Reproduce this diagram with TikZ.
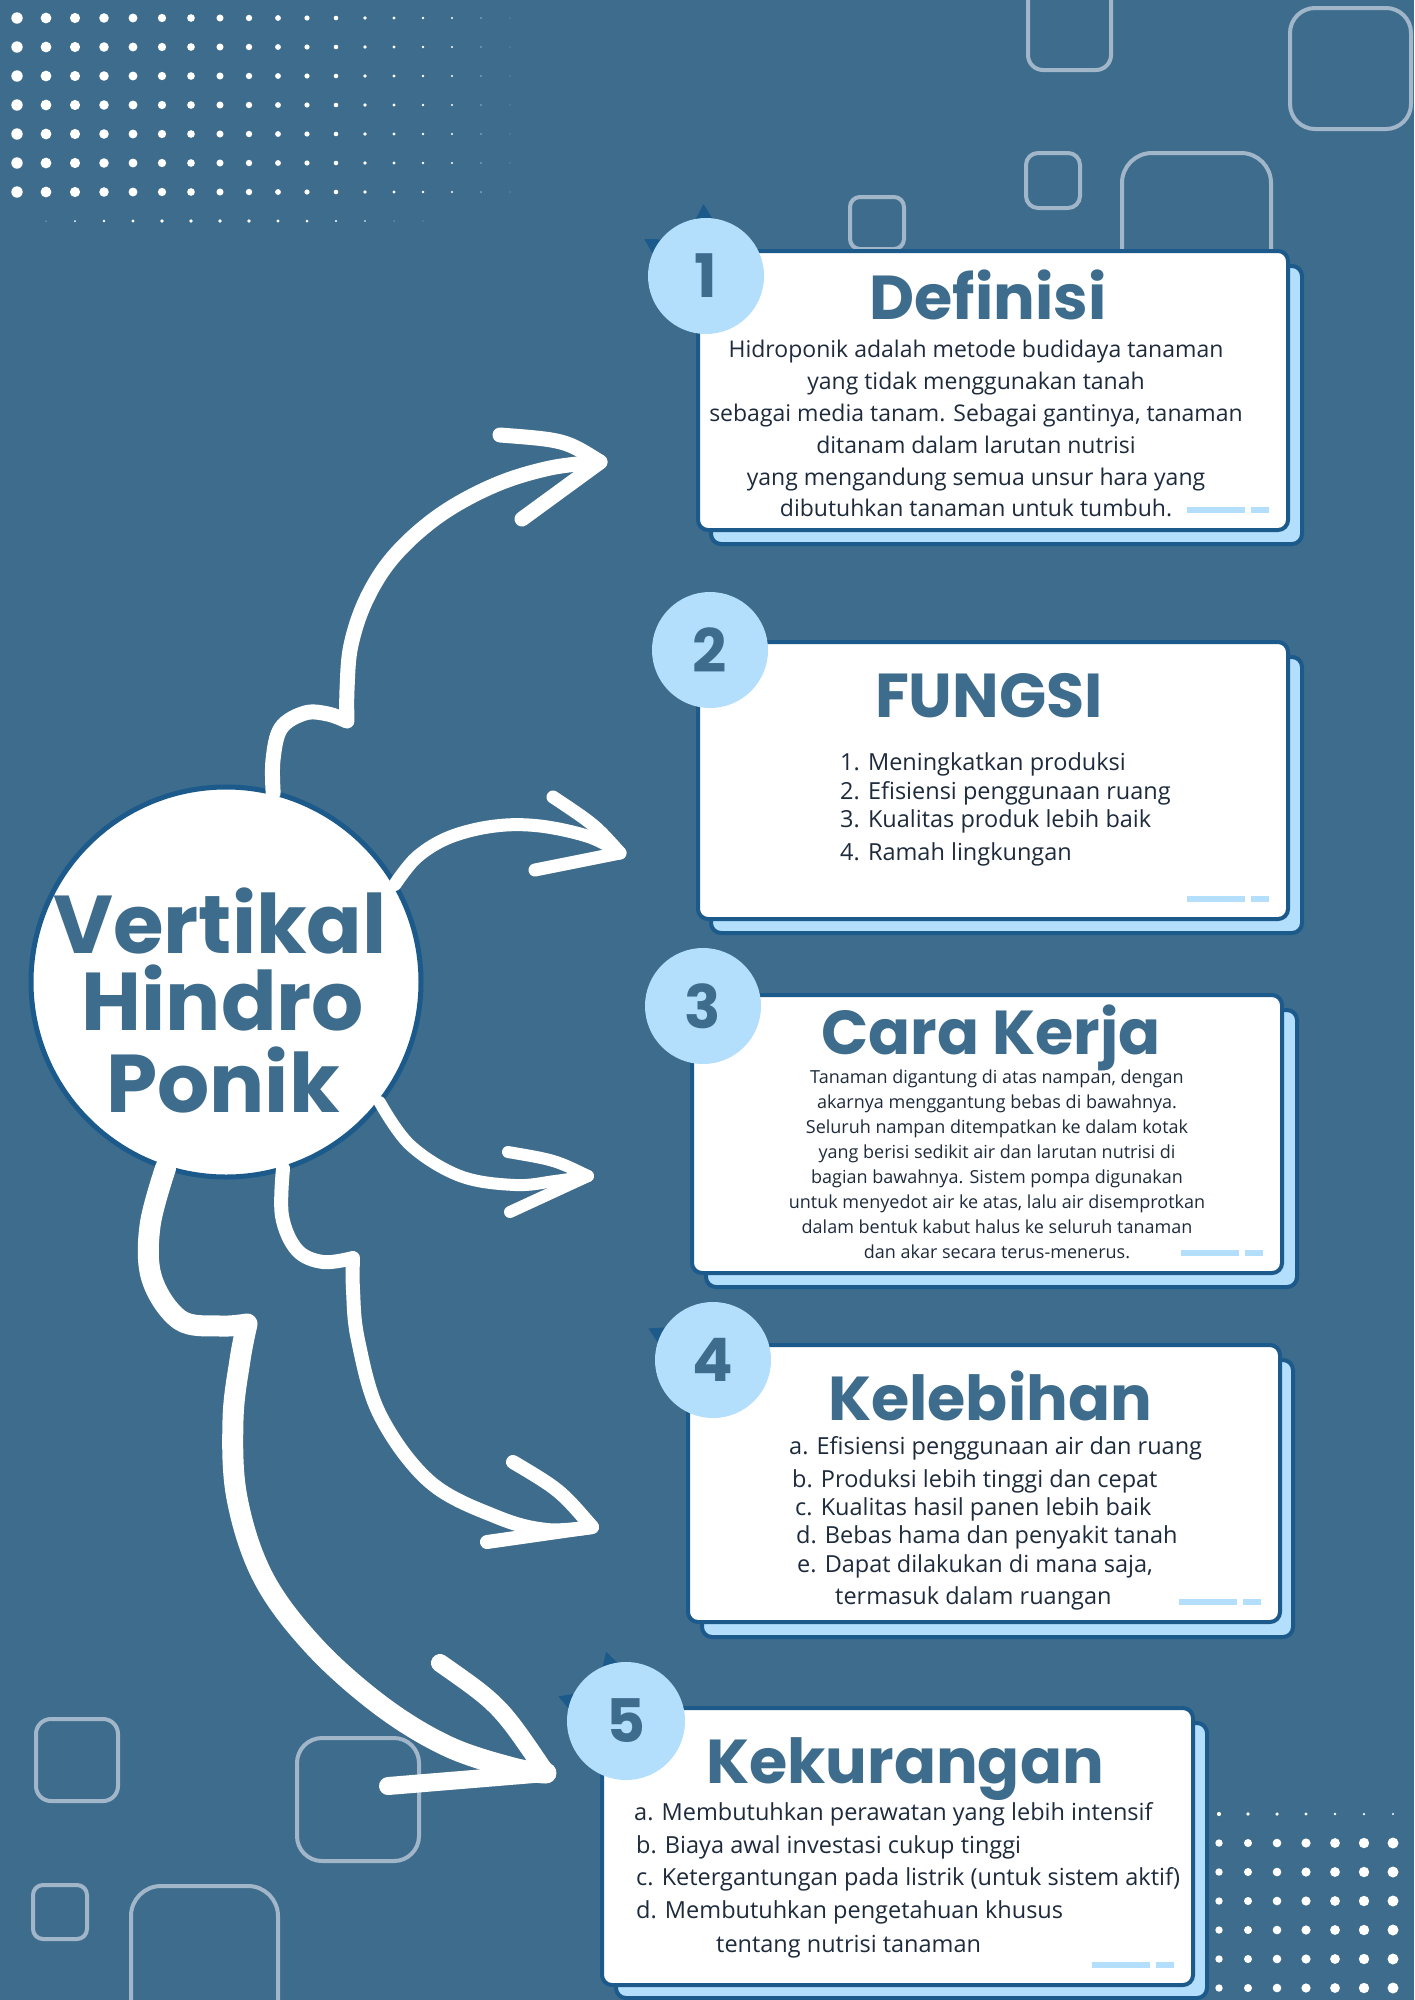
\documentclass[tikz,border=0pt]{standalone}
\usepackage{fontspec}
\setmainfont{Open Sans}
\newfontfamily\tfont{Poppins}
\usetikzlibrary{calc}
\definecolor{bg}{HTML}{3E6C8C}
\definecolor{cb}{HTML}{1B5A8A}
\definecolor{lb}{HTML}{B3DEFC}
\definecolor{tc}{HTML}{3E6C8C}
\definecolor{bodyc}{HTML}{1E2B3C}
\definecolor{sqc}{HTML}{A2B6CA}
\begin{document}
\begin{tikzpicture}[x=1pt,y=-1pt,
  sq/.style={draw=sqc,line width=4pt},
  backcard/.style={fill=lb,draw=cb,line width=4pt,rounded corners=10pt},
  frontcard/.style={fill=white,draw=cb,line width=4pt,rounded corners=10pt},
  deco/.style={fill=lb},
  numc/.style={circle,fill=lb,minimum size=116pt,inner sep=0pt,outer sep=0pt,text=tc,font=\tfont\bfseries\fontsize{60}{60}\selectfont},
  spike/.style={fill=cb},
  titletxt/.style={text=tc,inner sep=0pt,anchor=base,font=\tfont\bfseries\fontsize{62}{62}\selectfont},
  hubtxt/.style={text=tc,inner sep=0pt,anchor=base,font=\tfont\bfseries\fontsize{82}{82}\selectfont},
  bodyA/.style={text=bodyc,inner sep=0pt,anchor=base,font=\fontsize{23}{28}\selectfont},
  bodyB/.style={text=bodyc,inner sep=0pt,anchor=base west,font=\fontsize{23.5}{28}\selectfont},
  bodyC/.style={text=bodyc,inner sep=0pt,anchor=base,font=\fontsize{18}{22}\selectfont},
  arr/.style={draw=white,line cap=round,line join=round,line width=#1},
  arr/.default=13pt]
\useasboundingbox (0,0) rectangle (1414,2000);
\fill[bg] (0,0) rectangle (1414,2000);

% ---- dot grids ----
\foreach \row in {0,...,6}{
  \foreach \col in {0,...,18}{
    \pgfmathsetmacro{\rr}{5.7-0.31*\col}
    \ifdim \rr pt>0.3pt \fill[white] ({17+29*\col},{18+29*\row}) circle (\rr); \fi
  }}
\foreach \col/\rr in {1/0.5,2/1.0,3/1.3,4/1.6,5/1.8,6/1.9,7/1.9,8/1.9,9/1.7,10/1.5,11/1.2,12/0.8,13/0.5,14/0.3}{
  \fill[white] ({17+29*\col},221) circle (\rr);}
\foreach \k in {0,...,6}{
  \fill[white] ({1219+29*\k},1814) circle ({2.1-0.17*\k});
  \foreach \m in {1,...,6}{\fill[white] ({1219+29*\k},{1814+29*\m}) circle ({3.7+0.3*\k});}
}

% ---- outline squares ----
\draw[sq,rounded corners=15pt] (1028,-20) rectangle (1111,70);
\draw[sq,rounded corners=25pt] (1290,8) rectangle (1411,129);
\draw[sq,rounded corners=12pt] (1026,153) rectangle (1080,208);
\draw[sq,rounded corners=30pt] (1122,153) rectangle (1271,400);
\draw[sq,rounded corners=10pt] (850,197) rectangle (904,249);
\draw[sq,rounded corners=15pt] (36,1719) rectangle (118,1801);
\draw[sq,rounded corners=25pt] (297,1738) rectangle (419,1861);
\draw[sq,rounded corners=10pt] (33,1885) rectangle (87,1939);
\draw[sq,rounded corners=30pt] (131,1886) rectangle (278,2060);

% ---- circle centres and spikes ----
\coordinate (k1) at (706,276);
\coordinate (k2) at (710,650);
\coordinate (k3) at (703,1006);
\coordinate (k4) at (713,1360);
\coordinate (k5) at (626,1721);
\foreach \k/\a in {k1/92,k1/149,k4/154,k5/106,k5/160}{
  \fill[spike] ([shift={(\a-9:57pt)}]\k) -- ([shift={(\a:72pt)}]\k) -- ([shift={(\a+9:57pt)}]\k) -- cycle;}

% ---- cards ----
\draw[backcard] (711,266) rectangle (1302,544);
\draw[frontcard] (698,251) rectangle (1288,530);
\draw[backcard] (711,657) rectangle (1302,933);
\draw[frontcard] (698,642) rectangle (1288,919);
\draw[backcard] (706,1010) rectangle (1297,1287);
\draw[frontcard] (692,995) rectangle (1282,1273);
\draw[backcard] (702,1360) rectangle (1293,1637);
\draw[frontcard] (688,1345) rectangle (1280,1622);
\draw[backcard] (616,1723) rectangle (1207,1998);
\draw[frontcard] (602,1708) rectangle (1193,1985);

% deco bars
\foreach \R/\B in {1288/530,1288/919,1282/1273,1280/1622,1193/1985}{
  \fill[deco] ({\R-101},{\B-23}) rectangle ({\R-43},{\B-17});
  \fill[deco] ({\R-37},{\B-23}) rectangle ({\R-19},{\B-17});}

% ---- number circles ----
\node[numc] (c1) at (k1) {1};
\node[numc] (c2) at (k2) {2};
\node[numc] (c3) at (k3) {3};
\node[numc] (c4) at (k4) {4};
\node[numc,minimum size=118pt] (c5) at (k5) {5};

% ---- titles ----
\node[titletxt] (t1) at (988,319) {Definisi};
\node[titletxt] (t2) at (989,717) {FUNGSI};
\node[titletxt] (t3) at (991,1054) {Cara Kerja};
\node[titletxt] (t4) at (990,1420) {Kelebihan};
\node[titletxt] (t5) at (905,1783) {Kekurangan};

% ---- card texts ----
\foreach \i/\yy/\tx in {1/357/{Hidroponik adalah metode budidaya tanaman},
  2/389/{yang tidak menggunakan tanah},
  3/421/{sebagai media tanam. Sebagai gantinya, tanaman},
  4/453/{ditanam dalam larutan nutrisi},
  5/485/{yang mengandung semua unsur hara yang},
  6/516/{dibutuhkan tanaman untuk tumbuh.}}{
  \node[bodyA] (a\i) at (976,\yy) {\tx};}

\foreach \i/\yy/\tx in {1/770/{1. Meningkatkan produksi},
  2/799/{2. Efisiensi penggunaan ruang},
  3/827/{3. Kualitas produk lebih baik},
  4/860/{4. Ramah lingkungan}}{
  \node[bodyB] (b\i) at (840,\yy) {\tx};}

\foreach \i/\yy/\tx in {1/1083/{Tanaman digantung di atas nampan, dengan},
  2/1108/{akarnya menggantung bebas di bawahnya.},
  3/1133/{Seluruh nampan ditempatkan ke dalam kotak},
  4/1158/{yang berisi sedikit air dan larutan nutrisi di},
  5/1183/{bagian bawahnya. Sistem pompa digunakan},
  6/1208/{untuk menyedot air ke atas, lalu air disemprotkan},
  7/1233/{dalam bentuk kabut halus ke seluruh tanaman},
  8/1258/{dan akar secara terus-menerus.}}{
  \node[bodyC] (d\i) at (997,\yy) {\tx};}

\foreach \i/\xx/\yy/\tx in {1/789/1454/{a. Efisiensi penggunaan air dan ruang},
  2/792/1487/{b. Produksi lebih tinggi dan cepat},
  3/795/1515/{c. Kualitas hasil panen lebih baik},
  4/796/1543/{d. Bebas hama dan penyakit tanah},
  5/797/1572/{e. Dapat dilakukan di mana saja,},
  6/835/1604/{termasuk dalam ruangan}}{
  \node[bodyB] (e\i) at (\xx,\yy) {\tx};}

\foreach \i/\xx/\yy/\tx in {1/634/1820/{a. Membutuhkan perawatan yang lebih intensif},
  2/636/1853/{b. Biaya awal investasi cukup tinggi},
  3/636/1885/{c. Ketergantungan pada listrik (untuk sistem aktif)},
  4/636/1918/{d. Membutuhkan pengetahuan khusus},
  5/716/1952/{tentang nutrisi tanaman}}{
  \node[bodyB] (f\i) at (\xx,\yy) {\tx};}

% ---- hub ----
\node[circle,fill=white,draw=cb,line width=5pt,minimum size=390pt,inner sep=0pt,outer sep=0pt] (hub) at (226,982) {};
\node[hubtxt] (h1) at (220,953) {Vertikal};
\node[hubtxt] (h2) at (223,1030) {Hindro};
\node[hubtxt] (h3) at (223,1112) {Ponik};

% ---- arrows ----
% arrow 1
\draw[arr=15pt] plot[smooth,tension=0.6] coordinates {(hub.76) (273,760) (281,728) (305,713) (328,714) (347,721)}
  -- plot[smooth,tension=0.6] coordinates {(347,721) (347,690) (351,645) (367,598) (395,555) (440,515) (495,485) (550,468) (600,462)};
\draw[arr=15pt] (500,435) .. controls (565,440) .. (600,462) -- (522,519);
% arrow 2
\draw[arr=13pt] plot[smooth,tension=0.6] coordinates {(hub.30) (417,857) (450,837) (495,826) (540,826) (590,837) (620,853)};
\draw[arr=13pt] (553,797) .. controls (595,825) .. (620,853) -- (535,870);
% arrow 3
\draw[arr=12pt] plot[smooth,tension=0.6] coordinates {(hub.-38) (410,1145) (460,1176) (515,1185) (555,1181) (588,1176)};
\draw[arr=12pt] (508,1152) .. controls (555,1160) .. (588,1176) -- (510,1212);
% arrow 4
\draw[arr=14pt] plot[smooth,tension=0.6] coordinates {(hub.-73) (282,1216) (297,1250) (323,1262) (353,1258)}
  -- plot[smooth,tension=0.6] coordinates {(353,1258) (353,1290) (358,1340) (380,1415) (430,1482) (497,1517) (547,1530) (592,1527)};
\draw[arr=14pt] (513,1462) .. controls (560,1490) .. (592,1527) -- (487,1542);
% arrow 5
\draw[arr=21pt] plot[smooth,tension=0.6] coordinates {(hub.-108) (150,1226) (152,1279) (180,1320) (220,1326) (247,1324)}
  -- plot[smooth,tension=0.6] coordinates {(247,1324) (240,1360) (233,1420) (237,1498) (263,1577) (313,1645) (380,1705) (447,1746) (513,1768) (546,1773)};
\draw[arr=18pt] (440,1663) .. controls (500,1705) .. (546,1773) -- (388,1786);
\end{tikzpicture}
\end{document}
